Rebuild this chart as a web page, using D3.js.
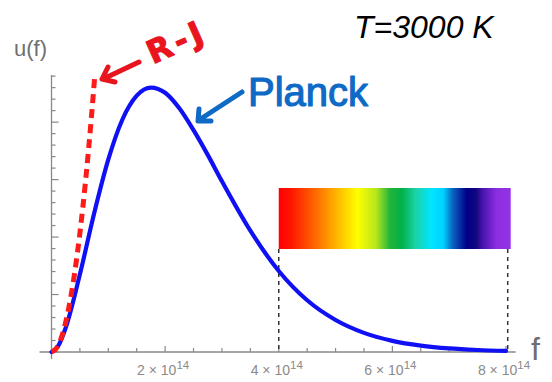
<!DOCTYPE html>
<html>
<head>
<meta charset="utf-8">
<script src="https://cdn.jsdelivr.net/npm/d3@7"></script>
<style>
  html, body { margin: 0; padding: 0; background: #fff; }
  svg { display: block; }
</style>
</head>
<body>
<svg id="chart" width="552" height="382"></svg>
<script>
// ---- data (frequency in units of 1e14 Hz, energy density in arbitrary units) ----
const planckF = [0, 0.125, 0.25, 0.5, 0.75, 1.0, 1.25, 1.5, 1.75, 2.0, 2.25, 2.5, 2.75, 3.0, 3.5, 4.0, 4.5, 5.0, 5.5, 6.0, 6.5, 7.0, 7.5, 8.0];
const planckU = [0, 0.117, 0.421, 1.352, 2.41, 3.35, 4.05, 4.46, 4.60, 4.51, 4.24, 3.86, 3.43, 2.97, 2.11, 1.41, 0.90, 0.557, 0.333, 0.194, 0.111, 0.062, 0.035, 0.019];
const rjF = [0, 0.1, 0.2, 0.3, 0.4, 0.5, 0.6, 0.7, 0.763];
const rjU = [0, 0.083, 0.331, 0.746, 1.325, 2.07, 2.98, 4.06, 4.82];
const xTickValues = [2, 4, 6, 8];
const xTickMantissa = ["2", "4", "6", "8"];
const xTickExponent = "14";
const visibleRange = [4, 8.03];
const spectrumStops = [
  [0.00, "#ff0000"], [0.05, "#ff1400"], [0.16, "#ff6a00"], [0.26, "#ffbe00"],
  [0.34, "#ffff00"], [0.42, "#b4e61e"], [0.48, "#22b43c"], [0.53, "#00b048"],
  [0.59, "#1cd2a8"], [0.66, "#00e6ff"], [0.71, "#00d0ff"], [0.75, "#0a64c0"],
  [0.81, "#000088"], [0.85, "#10067e"], [0.88, "#4a14b0"], [0.94, "#8c2ee0"],
  [1.00, "#9432e6"]
];
const tempLabel = "T=3000 K";
const yLabel = "u(f)";
const xLabel = "f";

// ---- scales ----
const svg = d3.select("#chart");
const x = d3.scaleLinear().domain([0, 8]).range([51.5, 506]);
const y = d3.scaleLinear().domain([0, 4.82]).range([352, 75]);

const axisColor = "#888";
const g = svg.append("g");

// y axis line and ticks
g.append("line").attr("x1", x(0)).attr("x2", x(0))
  .attr("y1", y(4.82)).attr("y2", y(0) + 7)
  .attr("stroke", axisColor).attr("stroke-width", 1.3);
const yTicks = d3.range(0, 4.81, 0.2);
g.selectAll(".ytick").data(yTicks).join("line")
  .attr("x1", x(0)).attr("x2", (d, i) => x(0) + (i % 5 === 0 ? 7 : 4))
  .attr("y1", d => y(d)).attr("y2", d => y(d))
  .attr("stroke", axisColor).attr("stroke-width", 1.2);

// x axis line and ticks
g.append("line").attr("x1", x(0) - 12).attr("x2", x(8.17))
  .attr("y1", y(0)).attr("y2", y(0))
  .attr("stroke", axisColor).attr("stroke-width", 1.3);
const xTicks = d3.range(0.5, 8.01, 0.5);
g.selectAll(".xtick").data(xTicks).join("line")
  .attr("x1", d => x(d)).attr("x2", d => x(d))
  .attr("y1", y(0)).attr("y2", d => y(0) - (d % 2 === 0 ? 6 : 4))
  .attr("stroke", axisColor).attr("stroke-width", 1.2);

// x tick labels
const lab = g.selectAll(".xlab").data(xTickValues).join("text")
  .attr("x", d => x(d) - 2).attr("y", 375)
  .attr("text-anchor", "middle")
  .attr("font-family", "Liberation Sans, Arial, sans-serif")
  .attr("font-size", 14).attr("fill", "#8a8a8a");
lab.append("tspan").text((d, i) => xTickMantissa[i] + " \u00d7 10");
lab.append("tspan").attr("dy", -6).attr("font-size", 11.5).text(xTickExponent);

// axis labels
svg.append("text").attr("x", 14).attr("y", 56).text(yLabel)
  .attr("font-family", "Liberation Sans, Arial, sans-serif")
  .attr("font-size", 22).attr("fill", "#6f6f6f");
svg.append("text").attr("x", 531).attr("y", 360).text(xLabel)
  .attr("font-family", "Liberation Sans, Arial, sans-serif")
  .attr("font-size", 32).attr("fill", "#6f6f6f");

// spectrum bar
const grad = svg.append("defs").append("linearGradient").attr("id", "spec")
  .attr("x1", "0%").attr("x2", "100%").attr("y1", "0%").attr("y2", "0%");
grad.selectAll("stop").data(spectrumStops).join("stop")
  .attr("offset", d => d[0]).attr("stop-color", d => d[1]);
svg.append("rect")
  .attr("x", x(visibleRange[0])).attr("width", x(visibleRange[1]) + 3 - x(visibleRange[0]))
  .attr("y", 188).attr("height", 61)
  .attr("fill", "url(#spec)");
svg.selectAll(".vline").data(visibleRange).join("line")
  .attr("x1", d => x(d)).attr("x2", d => x(d))
  .attr("y1", 249).attr("y2", y(0))
  .attr("stroke", "#333").attr("stroke-width", 1.5)
  .attr("stroke-dasharray", "4,4");

// curves
const line = d3.line().curve(d3.curveMonotoneX);
svg.append("path")
  .attr("d", line(planckF.map((f, i) => [x(f), y(planckU[i])])))
  .attr("fill", "none").attr("stroke", "#1010f5").attr("stroke-width", 4.2)
  .attr("stroke-linecap", "round");
svg.append("path")
  .attr("d", line(rjF.map((f, i) => [x(f), y(rjU[i])])))
  .attr("fill", "none").attr("stroke", "#ff1a1a").attr("stroke-width", 5)
  .attr("stroke-dasharray", "9,6");

// temperature label
svg.append("text").attr("x", 354).attr("y", 38).text(tempLabel)
  .attr("font-family", "Liberation Sans, Arial, sans-serif")
  .attr("font-style", "italic").attr("font-size", 32).attr("fill", "#000");

// handwritten annotations
const red = "#e8141e", blue = "#0f6ac6";
svg.append("text").text("R-J")
  .attr("transform", "translate(181,52) rotate(-24)")
  .attr("text-anchor", "middle")
  .attr("font-family", "DejaVu Sans, sans-serif").attr("font-weight", "bold")
  .attr("font-size", 32).attr("letter-spacing", 4)
  .attr("fill", red).attr("stroke", red).attr("stroke-width", 1)
  .attr("stroke-linejoin", "round");
svg.append("path")
  .attr("d", "M139,62 L103,79 M108,67 L102,79 L115,82")
  .attr("fill", "none").attr("stroke", red).attr("stroke-width", 5)
  .attr("stroke-linecap", "round").attr("stroke-linejoin", "round");

svg.append("text").text("Planck")
  .attr("x", 248).attr("y", 106)
  .attr("font-family", "Liberation Sans, Arial, sans-serif")
  .attr("font-size", 40)
  .attr("fill", blue).attr("stroke", blue).attr("stroke-width", 1.2)
  .attr("stroke-linejoin", "round");
svg.append("path")
  .attr("d", "M242,92 L199,120 M199,109 L198,121 L211,121")
  .attr("fill", "none").attr("stroke", blue).attr("stroke-width", 5)
  .attr("stroke-linecap", "round").attr("stroke-linejoin", "round");
</script>
</body>
</html>
